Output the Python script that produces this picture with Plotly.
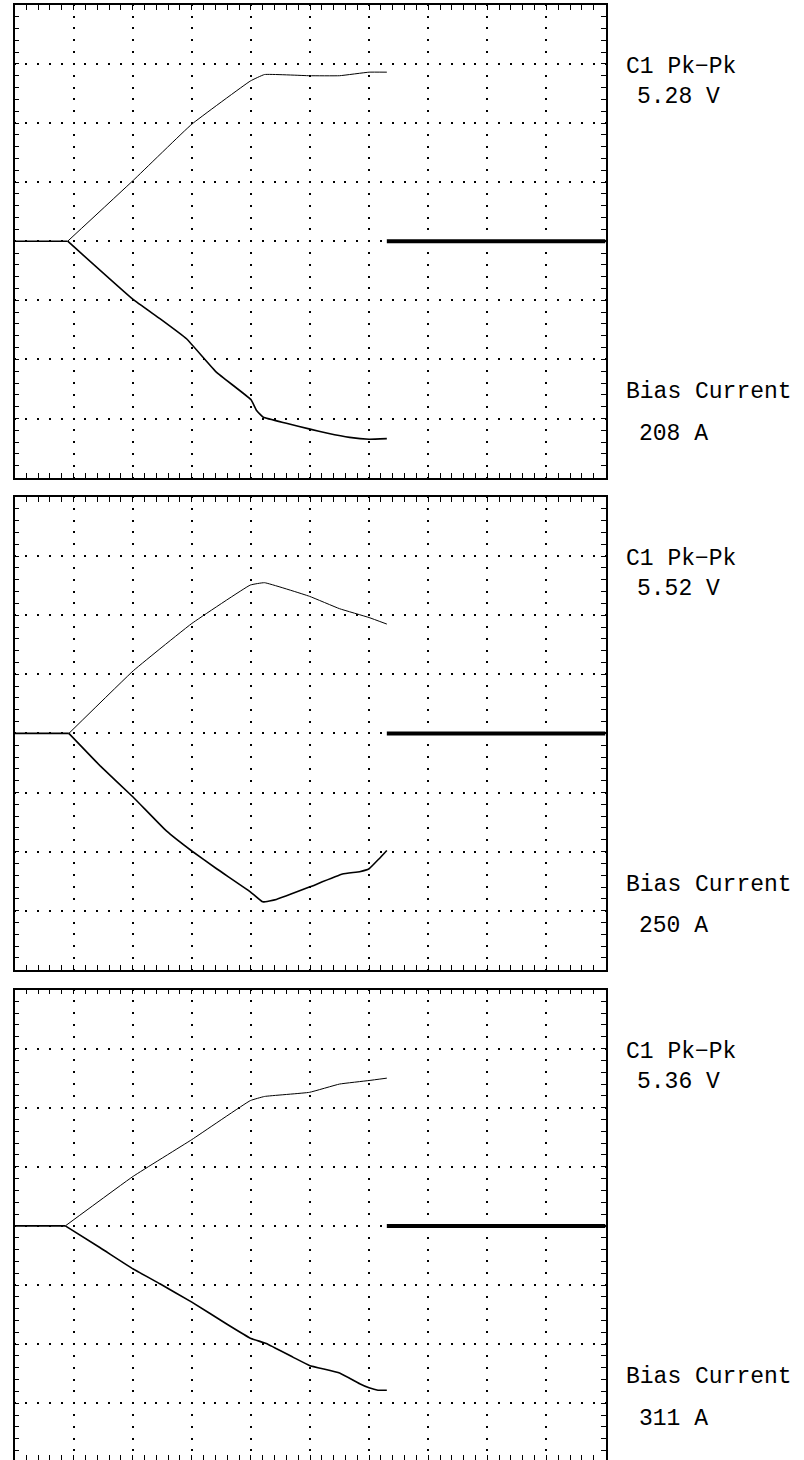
import plotly.graph_objects as go

# ---------------- data (screen divisions: x 0..10, y -4..4) ----------------
p1_upper_x = [0, 0.90, 2.01, 3.0, 3.99, 4.23, 4.99, 5.5, 6.0, 6.30]
p1_upper_y = [0, 0, 1.03, 1.98, 2.71, 2.82, 2.80, 2.80, 2.86, 2.86]
p1_lower_x = [0, 0.90, 2.0, 2.46, 2.91, 3.42, 4.0, 4.10, 4.21, 4.6, 5.0, 5.3,
              5.67, 6.0, 6.30]
p1_lower_y = [0, 0, -0.98, -1.31, -1.65, -2.22, -2.68, -2.87, -2.98, -3.08, -3.18, -3.25,
              -3.32, -3.35, -3.34]

p2_upper_x = [0, 0.92, 2.01, 2.46, 3.0, 3.99, 4.23, 4.99, 5.50, 6.0, 6.30]
p2_upper_y = [0, 0, 1.06, 1.43, 1.86, 2.51, 2.55, 2.32, 2.11, 1.96, 1.85]
p2_lower_x = [0, 0.92, 1.45, 2.01, 2.57, 3.0, 3.42, 3.99, 4.20, 4.43, 4.99, 5.55,
              5.84, 6.0, 6.17, 6.30]
p2_lower_y = [0, 0, -0.55, -1.08, -1.65, -1.99, -2.29, -2.68, -2.85, -2.81, -2.60, -2.38,
              -2.34, -2.29, -2.12, -1.98]

p3_upper_x = [0, 0.86, 2.01, 3.0, 3.99, 4.23, 4.99, 5.5, 6.0, 6.30]
p3_upper_y = [0, 0, 0.84, 1.46, 2.12, 2.19, 2.26, 2.40, 2.46, 2.50]
p3_lower_x = [0, 0.86, 1.45, 2.01, 2.46, 3.0, 3.59, 3.99, 4.26, 4.71, 4.99, 5.5,
              5.84, 6.0, 6.15, 6.30]
p3_lower_y = [0, 0, -0.37, -0.73, -0.98, -1.29, -1.66, -1.90, -1.99, -2.22, -2.36, -2.49,
              -2.67, -2.74, -2.78, -2.78]

ref_bar_x = [6.30, 10.0]
ref_bar_y = [0, 0]

meas_label = "C1 Pk\u2212Pk"
pkpk_values = ["5.28 V", "5.52 V", "5.36 V"]
bias_label = "Bias Current"
bias_values = ["208 A", "250 A", "311 A"]

panels = [
    (p1_upper_x, p1_upper_y, p1_lower_x, p1_lower_y),
    (p2_upper_x, p2_upper_y, p2_lower_x, p2_lower_y),
    (p3_upper_x, p3_upper_y, p3_lower_x, p3_lower_y),
]

# ---------------- geometry (pixels) ----------------
W, H = 804, 1460
LEFT, RIGHT = 14.5, 605.5
DIV = (RIGHT - LEFT) / 10.0
TOPS = [4.8, 497.0, 989.5]
period = DIV / 5.0
griddash = "1px,%.2fpx,1px,0px" % (period - 2)

fig = go.Figure()
layout = dict(
    width=W, height=H, autosize=False,
    margin=dict(l=0, r=0, t=0, b=0, pad=0),
    paper_bgcolor="white", plot_bgcolor="white",
    showlegend=False,
)

annotations = []
for i, (ux, uy, lx, ly) in enumerate(panels):
    n = "" if i == 0 else str(i + 1)
    xa, ya = "x" + n, "y" + n
    # flat baseline before the split point
    fig.add_trace(go.Scatter(x=lx[:2], y=ly[:2], mode="lines",
                             line=dict(color="black", width=1.6),
                             xaxis=xa, yaxis=ya, hoverinfo="skip"))
    fig.add_trace(go.Scatter(x=ux[1:], y=uy[1:], mode="lines",
                             line=dict(color="black", width=1, shape="spline", smoothing=0.3),
                             xaxis=xa, yaxis=ya, hoverinfo="skip"))
    fig.add_trace(go.Scatter(x=lx[1:], y=ly[1:], mode="lines",
                             line=dict(color="black", width=1.6, shape="spline", smoothing=0.3),
                             xaxis=xa, yaxis=ya, hoverinfo="skip"))
    fig.add_trace(go.Scatter(x=ref_bar_x, y=ref_bar_y, mode="lines",
                             line=dict(color="black", width=4),
                             xaxis=xa, yaxis=ya, hoverinfo="skip"))

    top = TOPS[i]
    bottom = min(top + 8 * DIV, H)
    ybot = 4 - (bottom - top) / DIV
    common = dict(
        showline=True, linecolor="black", linewidth=1.5, mirror="ticks",
        ticks="inside", ticklen=5, tickwidth=1, tickcolor="black",
        tick0=0, dtick=1, showticklabels=False,
        showgrid=True, gridcolor="black", gridwidth=1.5, griddash=griddash,
        zeroline=False, fixedrange=True,
        minor=dict(tick0=0, dtick=0.2, ticks="inside", ticklen=5, tickwidth=1,
                   tickcolor="black", showgrid=False),
    )
    layout["xaxis" + n] = dict(common, domain=[LEFT / W, RIGHT / W], range=[0, 10],
                               anchor=ya)
    layout["yaxis" + n] = dict(common, domain=[1 - bottom / H, 1 - top / H],
                               range=[ybot, 4], anchor=xa)

    def ann(text, xpx, ypx):
        annotations.append(dict(
            text=text, xref="paper", yref="paper", x=xpx / W, y=1 - ypx / H,
            xanchor="left", yanchor="middle", showarrow=False,
            font=dict(family="Liberation Mono", size=23, color="black"),
        ))

    ann(meas_label, 624, top + 62)
    ann(pkpk_values[i], 635, top + 92.5)
    ann(bias_label, 624, top + 387.5)
    ann(bias_values[i], 637, top + 429)

layout["annotations"] = annotations
fig.update_layout(**layout)
fig.write_html("out.html", config={"displayModeBar": False})
